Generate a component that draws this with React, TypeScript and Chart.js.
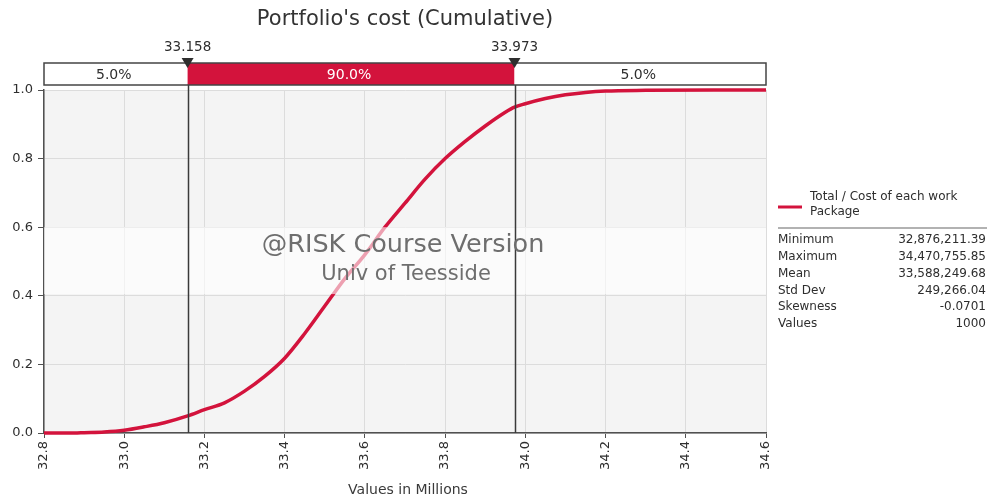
import React, { useEffect, useRef } from "react";
import { Chart, registerables } from "chart.js";

Chart.register(...registerables);

// ---- data ----
const CDF_X = [
  32.8, 32.876, 32.9, 32.95, 33.0, 33.05, 33.1, 33.158, 33.2, 33.25, 33.3, 33.35,
  33.4, 33.45, 33.5, 33.55, 33.6, 33.65, 33.7, 33.75, 33.8, 33.85, 33.9, 33.95,
  33.973, 34.0, 34.05, 34.1, 34.15, 34.2, 34.3, 34.47, 34.6,
];
const CDF_Y = [
  0.0, 0.0, 0.001, 0.003, 0.008, 0.018, 0.03, 0.05, 0.068, 0.088, 0.122, 0.165,
  0.218, 0.29, 0.37, 0.45, 0.52, 0.6, 0.67, 0.74, 0.8, 0.85, 0.895, 0.935,
  0.95, 0.96, 0.975, 0.986, 0.993, 0.997, 0.999, 1.0, 1.0,
];
const MARKERS = [33.158, 33.973];
const MARKER_LABELS = ["33.158", "33.973"];
const BAND_LABELS = ["5.0%", "90.0%", "5.0%"];
const TITLE = "Portfolio's cost (Cumulative)";
const X_TITLE = "Values in Millions";
const SERIES_NAME = ["Total / Cost of each work", "Package"];
const STAT_LABELS = ["Minimum", "Maximum", "Mean", "Std Dev", "Skewness", "Values"];
const STAT_VALUES = ["32,876,211.39", "34,470,755.85", "33,588,249.68", "249,266.04", "-0.0701", "1000"];
const WATERMARK = ["@RISK Course Version", "Univ of Teesside"];

const RED = "#d3133c";
const AXIS = "#505050";
const TEXT = "#2e2e2e";
const FONT = "'DejaVu Sans', sans-serif";

const overlay = {
  id: "overlay",
  beforeDraw(chart: any) {
    const { ctx, chartArea: a } = chart;
    ctx.save();
    ctx.fillStyle = "#f4f4f4";
    ctx.fillRect(a.left, a.top, a.right - a.left, a.bottom - a.top);
    ctx.restore();
  },
  afterDatasetsDraw(chart: any) {
    const { ctx, chartArea: a } = chart;
    const xs = chart.scales.x;
    const ys = chart.scales.y;
    ctx.save();
    // watermark band
    const bTop = ys.getPixelForValue(0.6);
    const bBot = ys.getPixelForValue(0.405);
    ctx.fillStyle = "rgba(255,255,255,0.6)";
    ctx.fillRect(a.left, bTop, a.right - a.left, bBot - bTop);
    // marker lines
    ctx.strokeStyle = "#3a3a3a";
    ctx.lineWidth = 1.5;
    MARKERS.forEach((m) => {
      const px = Math.round(xs.getPixelForValue(m)) + 0.5;
      ctx.beginPath();
      ctx.moveTo(px, a.top - 6);
      ctx.lineTo(px, a.bottom);
      ctx.stroke();
    });
    // watermark text
    const cx = (a.left + a.right) / 2;
    ctx.fillStyle = "#6e6e6e";
    ctx.textAlign = "center";
    ctx.textBaseline = "middle";
    ctx.font = `25.5px ${FONT}`;
    ctx.fillText(WATERMARK[0], cx - 2, bTop + 18);
    ctx.font = `21px ${FONT}`;
    ctx.fillText(WATERMARK[1], cx + 1, bTop + 47);
    ctx.restore();
  },
  afterDraw(chart: any) {
    const { ctx, chartArea: a } = chart;
    const xs = chart.scales.x;
    ctx.save();
    const cx = (a.left + a.right) / 2;
    // title
    ctx.fillStyle = "#333333";
    ctx.textAlign = "center";
    ctx.textBaseline = "middle";
    ctx.font = `21px ${FONT}`;
    ctx.fillText(TITLE, cx, 20);
    // band
    const bandTop = a.top - 27;
    const bandH = 22;
    const edges = [a.left, xs.getPixelForValue(MARKERS[0]), xs.getPixelForValue(MARKERS[1]), a.right];
    for (let i = 0; i < 3; i++) {
      const l = edges[i];
      const r = edges[i + 1];
      ctx.fillStyle = i === 1 ? RED : "#ffffff";
      ctx.fillRect(l, bandTop, r - l, bandH);
      ctx.fillStyle = i === 1 ? "#ffffff" : TEXT;
      ctx.font = `14px ${FONT}`;
      ctx.fillText(BAND_LABELS[i], (l + r) / 2 - 2, bandTop + bandH / 2 + 1);
    }
    ctx.strokeStyle = "#444444";
    ctx.lineWidth = 1.5;
    ctx.strokeRect(a.left, bandTop, a.right - a.left, bandH);
    // triangles and labels
    MARKERS.forEach((m, i) => {
      const px = xs.getPixelForValue(m);
      ctx.fillStyle = "#2e2e2e";
      ctx.beginPath();
      ctx.moveTo(px - 6, bandTop - 5);
      ctx.lineTo(px + 6, bandTop - 5);
      ctx.lineTo(px, bandTop + 5);
      ctx.closePath();
      ctx.fill();
      ctx.fillStyle = TEXT;
      ctx.font = `13.5px ${FONT}`;
      ctx.fillText(MARKER_LABELS[i], px, bandTop - 16);
    });
    // x title
    ctx.fillStyle = "#3a3a3a";
    ctx.font = `14px ${FONT}`;
    ctx.fillText(X_TITLE, cx + 3, 490);
    // legend
    const lx = a.right + 12;
    ctx.strokeStyle = RED;
    ctx.lineWidth = 3;
    ctx.beginPath();
    ctx.moveTo(lx, 207);
    ctx.lineTo(lx + 24, 207);
    ctx.stroke();
    ctx.textAlign = "left";
    ctx.fillStyle = TEXT;
    ctx.font = `12px ${FONT}`;
    ctx.fillText(SERIES_NAME[0], lx + 32, 197);
    ctx.fillText(SERIES_NAME[1], lx + 32, 212);
    ctx.strokeStyle = "#999999";
    ctx.lineWidth = 1.5;
    ctx.beginPath();
    ctx.moveTo(lx, 228);
    ctx.lineTo(987, 228);
    ctx.stroke();
    ctx.font = `12px ${FONT}`;
    STAT_LABELS.forEach((lab, i) => {
      const y = 240 + i * 16.8;
      ctx.textAlign = "left";
      ctx.fillText(lab, lx, y);
      ctx.textAlign = "right";
      ctx.fillText(STAT_VALUES[i], 986, y);
    });
    ctx.restore();
  },
};

export default function App() {
  const ref = useRef<HTMLCanvasElement | null>(null);
  useEffect(() => {
    if (!ref.current) return;
    const chart = new Chart(ref.current, {
      type: "scatter",
      data: {
        datasets: [
          {
            label: SERIES_NAME.join(" "),
            data: CDF_X.map((x, i) => ({ x, y: CDF_Y[i] })),
            showLine: true,
            borderColor: RED,
            borderWidth: 3.5,
            pointRadius: 0,
            cubicInterpolationMode: "monotone",
            clip: false as any,
          },
        ],
      },
      options: {
        animation: false,
        responsive: false,
        layout: { padding: { top: 90, right: 222, left: 0, bottom: 0 } },
        plugins: { legend: { display: false }, tooltip: { enabled: false }, title: { display: false } },
        scales: {
          x: {
            type: "linear",
            min: 32.8,
            max: 34.6,
            afterFit(s: any) {
              s.height = 67;
            },
            ticks: {
              stepSize: 0.2,
              minRotation: 90,
              maxRotation: 90,
              padding: 3,
              color: TEXT,
              font: { family: FONT, size: 13 },
              callback: (v: any) => Number(v).toFixed(1),
            },
            grid: { color: "#dcdcdc", tickColor: AXIS, tickLength: 5 },
            border: { color: AXIS, width: 1.5 },
          },
          y: {
            min: 0,
            max: 1,
            afterFit(s: any) {
              s.width = 44;
            },
            ticks: {
              stepSize: 0.2,
              padding: 5,
              color: TEXT,
              font: { family: FONT, size: 13 },
              callback: (v: any) => Number(v).toFixed(1),
            },
            grid: { color: "#dcdcdc", tickColor: AXIS, tickLength: 6 },
            border: { color: AXIS, width: 1.5 },
          },
        },
      },
      plugins: [overlay],
    });
    return () => chart.destroy();
  }, []);
  return (
    <div style={{ position: "absolute", left: 0, top: 0, width: 988, height: 500, background: "#fff" }}>
      <canvas ref={ref} width={988} height={500} style={{ display: "block" }} />
    </div>
  );
}
